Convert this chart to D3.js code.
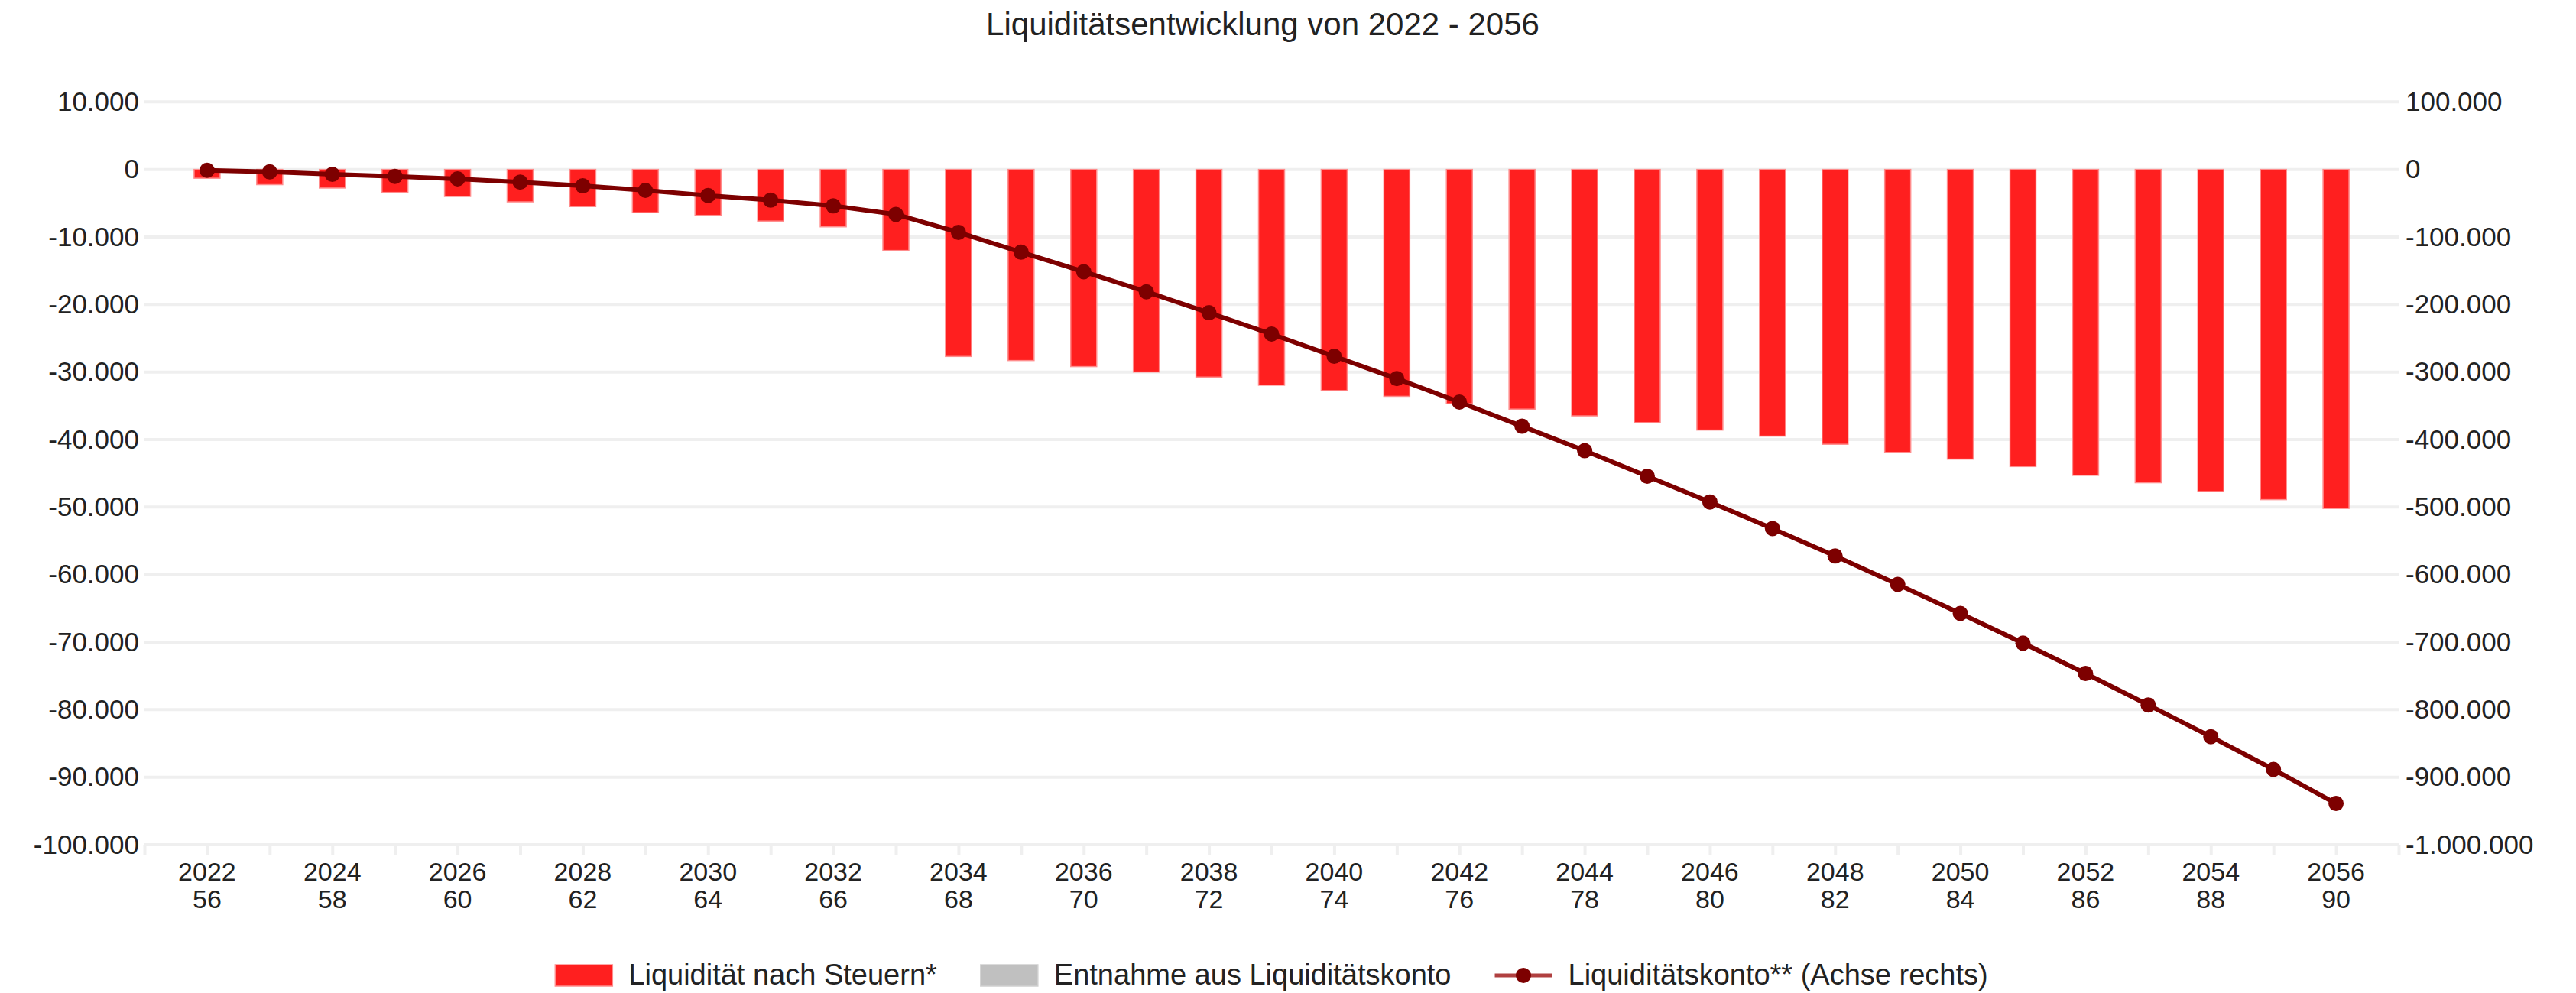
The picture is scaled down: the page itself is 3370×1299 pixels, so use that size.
<!DOCTYPE html>
<html>
<head>
<meta charset="utf-8">
<script src="https://cdn.jsdelivr.net/npm/d3@7"></script>
<style>
    body { margin: 0; background: #fff; }
    svg { display: block; }
</style>
</head>
<body>
<div id="chart"></div>
<script>
let years = [2022, 2023, 2024, 2025, 2026, 2027, 2028, 2029, 2030, 2031, 2032, 2033,
    2034, 2035, 2036, 2037, 2038, 2039, 2040, 2041, 2042, 2043, 2044, 2045,
    2046, 2047, 2048, 2049, 2050, 2051, 2052, 2053, 2054, 2055, 2056];

// Liquidität nach Steuern* (linke Achse)
let liquiditaet = [-1300, -2250, -2750, -3400, -4000, -4800, -5500, -6400, -6800, -7650, -8500, -12000,
    -27700, -28300, -29200, -30000, -30750, -31950, -32750, -33600, -34700, -35500, -36500, -37500,
    -38600, -39500, -40700, -41900, -42900, -44000, -45300, -46400, -47700, -48900, -50200];

// Entnahme aus Liquiditätskonto (linke Achse)
let entnahme = [0, 0, 0, 0, 0, 0, 0, 0, 0, 0, 0, 0,
    0, 0, 0, 0, 0, 0, 0, 0, 0, 0, 0, 0,
    0, 0, 0, 0, 0, 0, 0, 0, 0, 0, 0];

// Liquiditätskonto** (rechte Achse)
let konto = [-1300, -3600, -7300, -10200, -13900, -18700, -24300, -31000, -38500, -45500, -54000, -66500,
    -93200, -122500, -151500, -181200, -212200, -243800, -276700, -309800, -344500, -380300, -416500, -454300,
    -492500, -531800, -572500, -614600, -657500, -701500, -746500, -793000, -840000, -888500, -939000];

// tick labels: year and age underneath
let labelYears = [2022, 2024, 2026, 2028, 2030, 2032, 2034, 2036, 2038, 2040, 2042, 2044,
    2046, 2048, 2050, 2052, 2054, 2056];
let labelAges = [56, 58, 60, 62, 64, 66, 68, 70, 72, 74, 76, 78, 80, 82, 84, 86, 88, 90];

let leftTicks = [10000, 0, -10000, -20000, -30000, -40000, -50000, -60000, -70000, -80000, -90000, -100000];
let rightTicks = [100000, 0, -100000, -200000, -300000, -400000, -500000, -600000, -700000, -800000, -900000, -1000000];

let legendNames = ["Liquidität nach Steuern*", "Entnahme aus Liquiditätskonto", "Liquiditätskonto** (Achse rechts)"];

let width = 3370,
    height = 1299;
let plotLeft = 189,
    plotRight = 3138,
    plotTop = 133.3,
    plotBottom = 1105;

let textColor = "#222";
let gridColor = "#efefef";
let barColor = "#ff1f1f";
let lineColor = "#7d0000";

let de = d3.formatLocale({decimal: ",", thousands: ".", grouping: [3], currency: ["", " €"], minus: "-"});
let fmt = de.format(",d");

let svg = d3.select("#chart").append("svg")
    .attr("width", width)
    .attr("height", height)
    .attr("font-family", "'Liberation Sans', Arial, sans-serif");

svg.append("rect")
    .attr("width", width)
    .attr("height", height)
    .attr("fill", "#fff");

// scales
let x = d3.scalePoint()
    .domain(years)
    .range([plotLeft, plotRight])
    .padding(1);

let xTicks = d3.scalePoint()
    .domain(d3.range(years[0] - 1, years[years.length - 1] + 2))
    .range([plotLeft, plotRight]);

let yLeft = d3.scaleLinear()
    .domain([-100000, 10000])
    .range([plotBottom, plotTop]);

let yRight = d3.scaleLinear()
    .domain([-1000000, 100000])
    .range([plotBottom, plotTop]);

// title
svg.append("text")
    .attr("x", 1652)
    .attr("y", 46)
    .attr("text-anchor", "middle")
    .attr("font-size", 42)
    .attr("fill", textColor)
    .text("Liquiditätsentwicklung von 2022 - 2056");

// grid lines
svg.append("g")
    .selectAll("line")
    .data(leftTicks)
    .enter().append("line")
    .attr("x1", plotLeft)
    .attr("x2", plotRight)
    .attr("y1", d => yLeft(d))
    .attr("y2", d => yLeft(d))
    .attr("stroke", gridColor)
    .attr("stroke-width", 4);

// x axis ticks (no labels)
let xAxis = svg.append("g")
    .attr("transform", "translate(0," + plotBottom + ")")
    .call(d3.axisBottom(xTicks).tickSize(14).tickFormat(""));
xAxis.select(".domain").remove();
xAxis.selectAll(".tick line")
    .attr("stroke", gridColor)
    .attr("stroke-width", 4);

// x labels, two lines
let xLabels = svg.append("g")
    .selectAll("text")
    .data(labelYears)
    .enter().append("text")
    .attr("text-anchor", "middle")
    .attr("font-size", 34)
    .attr("fill", textColor)
    .attr("transform", d => "translate(" + x(d) + ",0)");
xLabels.append("tspan")
    .attr("x", 0)
    .attr("y", 1152)
    .text(d => d);
xLabels.append("tspan")
    .attr("x", 0)
    .attr("y", 1188)
    .text((d, i) => labelAges[i]);

// y axes
let leftAxis = svg.append("g")
    .attr("transform", "translate(" + plotLeft + ",0)")
    .call(d3.axisLeft(yLeft).tickValues(leftTicks).tickSize(0).tickPadding(7).tickFormat(fmt));
let rightAxis = svg.append("g")
    .attr("transform", "translate(" + plotRight + ",0)")
    .call(d3.axisRight(yRight).tickValues(rightTicks).tickSize(0).tickPadding(9).tickFormat(fmt));
[leftAxis, rightAxis].forEach(function (a) {
    a.select(".domain").remove();
    a.selectAll("text")
        .attr("font-size", 35)
        .attr("font-family", "'Liberation Sans', Arial, sans-serif")
        .attr("fill", textColor);
});

// bars
let barWidth = x.step() * 0.415;

svg.append("g")
    .selectAll("rect")
    .data(years)
    .enter().append("rect")
    .attr("x", d => x(d) - barWidth / 2)
    .attr("width", barWidth)
    .attr("y", (d, i) => yLeft(Math.max(0, liquiditaet[i])))
    .attr("height", (d, i) => Math.abs(yLeft(liquiditaet[i]) - yLeft(0)))
    .attr("fill", barColor)
    .attr("stroke", "#ff8c8c")
    .attr("stroke-width", 1.5);

svg.append("g")
    .selectAll("rect")
    .data(years)
    .enter().append("rect")
    .attr("x", d => x(d) - barWidth / 2)
    .attr("width", barWidth)
    .attr("y", (d, i) => yLeft(liquiditaet[i]))
    .attr("height", (d, i) => Math.abs(yLeft(entnahme[i]) - yLeft(0)))
    .attr("fill", "#c0c0c0");

// line on the right axis
let line = d3.line()
    .x((d, i) => x(years[i]))
    .y(d => yRight(d));

svg.append("path")
    .datum(konto)
    .attr("d", line)
    .attr("fill", "none")
    .attr("stroke", lineColor)
    .attr("stroke-width", 6)
    .attr("stroke-linejoin", "round");

svg.append("g")
    .selectAll("circle")
    .data(konto)
    .enter().append("circle")
    .attr("cx", (d, i) => x(years[i]))
    .attr("cy", d => yRight(d))
    .attr("r", 10)
    .attr("fill", lineColor);

// legend
let legendY = 1276,
    swatchW = 75,
    swatchGap = 21,
    itemGap = 57;

let legend = svg.append("g");
let items = legend.selectAll("g")
    .data(legendNames)
    .enter().append("g");

items.each(function (d, i) {
    let item = d3.select(this);
    if (i < 2) {
        item.append("rect")
            .attr("x", 0)
            .attr("y", legendY - 14)
            .attr("width", swatchW)
            .attr("height", 28)
            .attr("fill", i === 0 ? barColor : "#c0c0c0")
            .attr("stroke", i === 0 ? "#ff8c8c" : "#d0d0d0")
            .attr("stroke-width", 1.5);
    } else {
        item.append("line")
            .attr("x1", 0)
            .attr("x2", swatchW)
            .attr("y1", legendY)
            .attr("y2", legendY)
            .attr("stroke", "#b04040")
            .attr("stroke-width", 5);
        item.append("circle")
            .attr("cx", swatchW / 2)
            .attr("cy", legendY)
            .attr("r", 10)
            .attr("fill", lineColor);
    }
    item.append("text")
        .attr("x", swatchW + swatchGap)
        .attr("y", legendY + 12)
        .attr("font-size", 38)
        .attr("fill", textColor)
        .text(d);
});

// place legend items next to each other, centred under the plot
let offsets = [],
    total = 0;
items.each(function (d, i) {
    let w = swatchW + swatchGap + d3.select(this).select("text").node().getComputedTextLength();
    offsets.push(total);
    total += w + (i < legendNames.length - 1 ? itemGap : 0);
});
let legendStart = (plotLeft + plotRight) / 2 - total / 2;
items.attr("transform", (d, i) => "translate(" + (legendStart + offsets[i]) + ",0)");
</script>
</body>
</html>
